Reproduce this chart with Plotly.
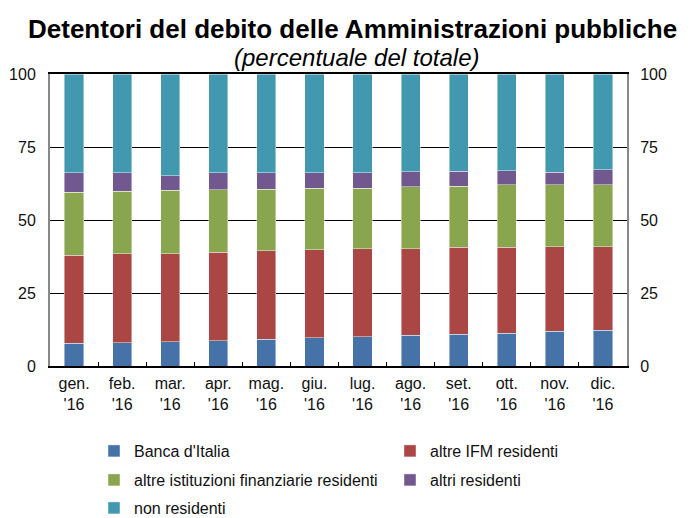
import plotly.graph_objects as go

months = ["gen.<br>'16", "feb.<br>'16", "mar.<br>'16", "apr.<br>'16", "mag.<br>'16", "giu.<br>'16",
          "lug.<br>'16", "ago.<br>'16", "set.<br>'16", "ott.<br>'16", "nov.<br>'16", "dic.<br>'16"]

# cumulative tops
cum_banca = [7.8, 8.0, 8.3, 8.7, 9.1, 9.7, 10.0, 10.5, 10.8, 11.3, 11.9, 12.2]
cum_ifm = [38.0, 38.5, 38.4, 39.0, 39.5, 39.8, 40.1, 40.2, 40.6, 40.6, 40.9, 40.9]
cum_ist = [59.5, 59.9, 60.2, 60.3, 60.5, 60.8, 60.8, 61.4, 61.5, 62.0, 62.0, 62.1]
cum_altri = [66.2, 66.2, 65.2, 66.2, 66.2, 66.2, 66.2, 66.5, 66.7, 66.9, 66.4, 67.2]
total = [100] * 12

banca = cum_banca
ifm = [round(b - a, 1) for a, b in zip(cum_banca, cum_ifm)]
ist = [round(b - a, 1) for a, b in zip(cum_ifm, cum_ist)]
altri = [round(b - a, 1) for a, b in zip(cum_ist, cum_altri)]
nonres = [round(b - a, 1) for a, b in zip(cum_altri, total)]

series_names = ["Banca d'Italia", "altre IFM residenti", "altre istituzioni finanziarie residenti",
                "altri residenti", "non residenti"]
series_values = [banca, ifm, ist, altri, nonres]
series_colors = ["#4572A7", "#AA4643", "#89A54E", "#71588F", "#4198AF"]

FONT = "Liberation Sans, Arial, sans-serif"
OFF = 8  # page body margin
W, H = 690 - OFF, 518 - OFF
# target window coordinates of the plot area
PL, PR, PT, PB = 50, 627, 74, 366
L, R, T, B = PL - OFF, W - (PR - OFF), PT - OFF, H - (PB - OFF)
pw, ph = W - L - R, H - T - B


def px_x(p):
    return (p - OFF - L) / pw


def px_y(p):
    return (H - B - (p - OFF)) / ph


# legend entry positions (window px of swatch centre)
legend_pos = [(114, 451), (410, 451), (114, 480), (410, 480), (114, 508)]
legend_keys = ["legend", "legend2", "legend3", "legend4", "legend5"]

fig = go.Figure()
for name, vals, color, lg in zip(series_names, series_values, series_colors, legend_keys):
    fig.add_trace(go.Bar(
        x=months, y=vals, name=name, legend=lg,
        marker=dict(color=color, line=dict(color="rgba(255,255,255,0.55)", width=0.8)),
    ))
fig.add_trace(go.Scatter(x=months, y=[None] * 12, yaxis="y2", mode="none",
                         showlegend=False, hoverinfo="skip"))

legends = {}
for key, (lx, ly) in zip(legend_keys, legend_pos):
    legends[key] = dict(orientation="h", font=dict(family=FONT, size=16, color="#111"),
                        bgcolor="rgba(0,0,0,0)", xanchor="left", yanchor="middle",
                        x=px_x(lx - 20), y=px_y(ly), itemclick=False, itemdoubleclick=False,
                        traceorder="normal")

fig.update_layout(
    width=W, height=H,
    margin=dict(l=L, r=R, t=T, b=B, pad=0, autoexpand=False),
    paper_bgcolor="white", plot_bgcolor="white",
    barmode="stack", bargap=0.6,
    font=dict(family=FONT, size=16, color="#111"),
    xaxis=dict(range=[-0.5, len(months) - 0.5], autorange=False,
               showline=True, linecolor="black", linewidth=2, mirror=True,
               ticks="inside", tickson="boundaries", ticklen=4, tickcolor="black", tickwidth=1,
               showgrid=False, ticklabelstandoff=2, tickfont=dict(size=16, color="#111")),
    yaxis=dict(range=[0, 100], tickvals=[0, 25, 50, 75, 100], showgrid=True, gridcolor="black",
               gridwidth=1, showline=True, linecolor="#888", linewidth=2, zeroline=False,
               ticks="", ticklabelstandoff=9, tickfont=dict(size=16, color="#111")),
    yaxis2=dict(range=[0, 100], tickvals=[0, 25, 50, 75, 100], overlaying="y", side="right",
                showgrid=False, showline=True, linecolor="#888", linewidth=2, zeroline=False,
                ticks="", ticklabelstandoff=8, tickfont=dict(size=16, color="#111")),
    annotations=[
        dict(text="<b>Detentori del debito delle Amministrazioni pubbliche</b>", xref="paper", yref="paper",
             x=px_x(352), y=px_y(29), xanchor="center", yanchor="middle", showarrow=False,
             font=dict(family=FONT, size=26, color="black")),
        dict(text="<i>(percentuale del totale)</i>", xref="paper", yref="paper",
             x=px_x(356), y=px_y(57), xanchor="center", yanchor="middle", showarrow=False,
             font=dict(family=FONT, size=24, color="black")),
    ],
    **legends,
)

fig.write_html("out.html")
